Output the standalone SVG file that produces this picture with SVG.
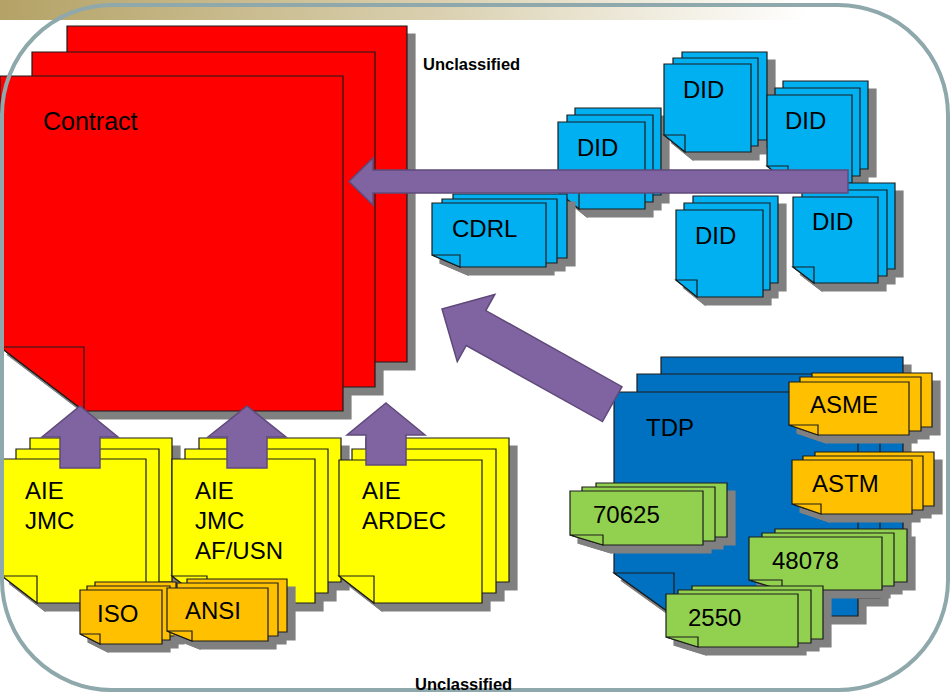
<svg xmlns="http://www.w3.org/2000/svg" width="951" height="693" viewBox="0 0 951 693">
<defs>
<linearGradient id="band" x1="0" y1="0" x2="951" y2="0" gradientUnits="userSpaceOnUse">
<stop offset="0" stop-color="#b4a266"/>
<stop offset="0.45" stop-color="#d9cfae"/>
<stop offset="0.85" stop-color="#ffffff"/>
</linearGradient>
<filter id="sh" x="-10%" y="-10%" width="130%" height="130%" color-interpolation-filters="sRGB">
<feOffset in="SourceAlpha" dx="8" dy="8" result="o"/>
<feFlood flood-color="#808080"/>
<feComposite in2="o" operator="in" result="s"/>
<feMerge><feMergeNode in="s"/><feMergeNode in="SourceGraphic"/></feMerge>
</filter>
<style>
path, polygon { stroke-linejoin: miter; }
.pg { stroke: #1c1c1c; stroke-width: 1.2; }
.red { fill: #ff0000; }
.yel { fill: #ffff00; }
.org { fill: #ffc000; }
.lb { fill: #00b0f0; }
.db { fill: #0070c0; }
.grn { fill: #92d050; }
.t { font-family: "Liberation Sans", Arial, sans-serif; font-size: 24px; fill: #000; }
.u { font-family: "Liberation Sans", Arial, sans-serif; font-size: 16.5px; font-weight: bold; fill: #000; }
.arr { fill: #8064a2; stroke: #5f497a; stroke-width: 1.5; }
</style>
</defs>
<rect width="951" height="693" fill="#ffffff"/>
<rect x="0" y="0" width="951" height="20" fill="url(#band)"/>

<g id="contract">
<g filter="url(#sh)" class="pg red">
<path d="M67 26 H407 V362 H150 L67 298 Z"/><path d="M67 298 H150 V362 Z"/>
<path d="M32 52 H375 V387 H116 L32 323 Z"/><path d="M32 323 H116 V387 Z"/>
<path d="M0 76 H343 V411 H84 L0 347 Z"/><path d="M0 347 H84 V411 Z"/>
</g>
<text class="t" x="43" y="130" style="font-size:25px">Contract</text>
</g>

<g id="aie-jmc">
<g filter="url(#sh)" class="pg yel">
<path d="M30 438 H172 V582 H65 L30 555 Z"/><path d="M30 555 H65 V582 Z"/>
<path d="M16 449 H159 V593 H51 L16 566 Z"/><path d="M16 566 H51 V593 Z"/>
<path d="M2 459 H146 V603 H37 L2 576 Z"/><path d="M2 576 H37 V603 Z"/>
</g>
<text class="t" x="25" y="499">AIE</text>
<text class="t" x="25" y="529">JMC</text>
</g>

<g id="aie-jmc-afusn">
<g filter="url(#sh)" class="pg yel">
<path d="M199 438 H341 V582 H234 L199 555 Z"/><path d="M199 555 H234 V582 Z"/>
<path d="M185 449 H328 V593 H220 L185 566 Z"/><path d="M185 566 H220 V593 Z"/>
<path d="M172 459 H315 V603 H207 L172 576 Z"/><path d="M172 576 H207 V603 Z"/>
</g>
<text class="t" x="195" y="499">AIE</text>
<text class="t" x="195" y="529">JMC</text>
<text class="t" x="195" y="559">AF/USN</text>
</g>

<g id="aie-ardec">
<g filter="url(#sh)" class="pg yel">
<path d="M366 438 H509 V582 H401 L366 555 Z"/><path d="M366 555 H401 V582 Z"/>
<path d="M352 449 H496 V593 H387 L352 566 Z"/><path d="M352 566 H387 V593 Z"/>
<path d="M339 460 H482 V603 H374 L339 576 Z"/><path d="M339 576 H374 V603 Z"/>
</g>
<text class="t" x="362" y="499">AIE</text>
<text class="t" x="362" y="529">ARDEC</text>
</g>

<g id="iso">
<g filter="url(#sh)" class="pg org">
<path d="M95 582 H176 V636 H115 L95 626 Z"/><path d="M95 626 H115 V636 Z"/>
<path d="M87 586 H170 V640 H107 L87 630 Z"/><path d="M87 630 H107 V640 Z"/>
<path d="M80 590 H162 V644 H100 L80 634 Z"/><path d="M80 634 H100 V644 Z"/>
</g>
<text class="t" x="97" y="622">ISO</text>
</g>

<g id="ansi">
<g filter="url(#sh)" class="pg org">
<path d="M187 579 H287 V632 H212 L187 622 Z"/><path d="M187 622 H212 V632 Z"/>
<path d="M177 583 H278 V636 H202 L177 626 Z"/><path d="M177 626 H202 V636 Z"/>
<path d="M167 588 H268 V641 H192 L167 631 Z"/><path d="M167 631 H192 V641 Z"/>
</g>
<text class="t" x="185" y="619">ANSI</text>
</g>

<g id="did-a">
<g filter="url(#sh)" class="pg lb">
<path d="M575 108 H661 V195 H596 L575 178 Z"/><path d="M575 178 H596 V195 Z"/>
<path d="M567 115 H653 V202 H588 L567 185 Z"/><path d="M567 185 H588 V202 Z"/>
<path d="M558 122 H645 V209 H579 L558 192 Z"/><path d="M558 192 H579 V209 Z"/>
</g>
<text class="t" x="577" y="156">DID</text>
</g>

<g id="did-b">
<g filter="url(#sh)" class="pg lb">
<path d="M682 52 H767 V140 H703 L682 123 Z"/><path d="M682 123 H703 V140 Z"/>
<path d="M673 58 H758 V146 H694 L673 129 Z"/><path d="M673 129 H694 V146 Z"/>
<path d="M664 64 H751 V152 H685 L664 135 Z"/><path d="M664 135 H685 V152 Z"/>
</g>
<text class="t" x="683" y="98">DID</text>
</g>

<g id="did-c">
<g filter="url(#sh)" class="pg lb">
<path d="M783 81 H868 V169 H804 L783 152 Z"/><path d="M783 152 H804 V169 Z"/>
<path d="M775 88 H860 V176 H796 L775 159 Z"/><path d="M775 159 H796 V176 Z"/>
<path d="M767 95 H852 V183 H788 L767 166 Z"/><path d="M767 166 H788 V183 Z"/>
</g>
<text class="t" x="785" y="129">DID</text>
</g>

<g id="did-d">
<g filter="url(#sh)" class="pg lb">
<path d="M693 196 H778 V283 H714 L693 266 Z"/><path d="M693 266 H714 V283 Z"/>
<path d="M684 203 H770 V290 H705 L684 273 Z"/><path d="M684 273 H705 V290 Z"/>
<path d="M676 210 H763 V297 H697 L676 280 Z"/><path d="M676 280 H697 V297 Z"/>
</g>
<text class="t" x="695" y="244">DID</text>
</g>

<g id="did-e">
<g filter="url(#sh)" class="pg lb">
<path d="M810 183 H895 V269 H831 L810 253 Z"/><path d="M810 253 H831 V269 Z"/>
<path d="M802 190 H887 V276 H823 L802 260 Z"/><path d="M802 260 H823 V276 Z"/>
<path d="M793 197 H878 V283 H814 L793 267 Z"/><path d="M793 267 H814 V283 Z"/>
</g>
<text class="t" x="812" y="230">DID</text>
</g>

<g id="cdrl">
<g filter="url(#sh)" class="pg lb">
<path d="M453 194 H567 V258 H481 L453 246 Z"/><path d="M453 246 H481 V258 Z"/>
<path d="M442 199 H557 V263 H470 L442 251 Z"/><path d="M442 251 H470 V263 Z"/>
<path d="M432 203 H546 V267 H460 L432 255 Z"/><path d="M432 255 H460 V267 Z"/>
</g>
<text class="t" x="452" y="237">CDRL</text>
</g>

<g id="tdp">
<g filter="url(#sh)" class="pg db">
<path d="M661 357 H903 V581 H720 L661 538 Z"/><path d="M661 538 H720 V581 Z"/>
<path d="M637 374 H880 V598 H697 L637 555 Z"/><path d="M637 555 H697 V598 Z"/>
<path d="M614 392 H858 V616 H674 L614 573 Z"/><path d="M614 573 H674 V616 Z"/>
</g>
<text class="t" x="646" y="436">TDP</text>
</g>

<g id="asme">
<g filter="url(#sh)" class="pg org">
<path d="M812 373 H932 V427 H841 L812 417 Z"/><path d="M812 417 H841 V427 Z"/>
<path d="M800 377 H921 V431 H830 L800 421 Z"/><path d="M800 421 H830 V431 Z"/>
<path d="M789 382 H909 V435 H818 L789 425 Z"/><path d="M789 425 H818 V435 Z"/>
</g>
<text class="t" x="810" y="413">ASME</text>
</g>

<g id="astm">
<g filter="url(#sh)" class="pg org">
<path d="M815 452 H934 V506 H844 L815 496 Z"/><path d="M815 496 H844 V506 Z"/>
<path d="M803 456 H923 V510 H832 L803 500 Z"/><path d="M803 500 H832 V510 Z"/>
<path d="M792 460 H912 V514 H821 L792 504 Z"/><path d="M792 504 H821 V514 Z"/>
</g>
<text class="t" x="812" y="492">ASTM</text>
</g>

<g id="n70625">
<g filter="url(#sh)" class="pg grn">
<path d="M596 483 H727 V537 H628 L596 527 Z"/><path d="M596 527 H628 V537 Z"/>
<path d="M582 487 H715 V541 H615 L582 531 Z"/><path d="M582 531 H615 V541 Z"/>
<path d="M570 491 H703 V545 H603 L570 535 Z"/><path d="M570 535 H603 V545 Z"/>
</g>
<text class="t" x="593" y="523">70625</text>
</g>

<g id="n48078">
<g filter="url(#sh)" class="pg grn">
<path d="M775 529 H907 V582 H807 L775 572 Z"/><path d="M775 572 H807 V582 Z"/>
<path d="M762 533 H894 V586 H794 L762 576 Z"/><path d="M762 576 H794 V586 Z"/>
<path d="M749 537 H882 V590 H782 L749 580 Z"/><path d="M749 580 H782 V590 Z"/>
</g>
<text class="t" x="772" y="569">48078</text>
</g>

<g id="n2550">
<g filter="url(#sh)" class="pg grn">
<path d="M692 586 H823 V639 H724 L692 629 Z"/><path d="M692 629 H724 V639 Z"/>
<path d="M678 590 H811 V643 H711 L678 633 Z"/><path d="M678 633 H711 V643 Z"/>
<path d="M666 594 H798 V647 H698 L666 637 Z"/><path d="M666 637 H698 V647 Z"/>
</g>
<text class="t" x="688" y="626">2550</text>
</g>

<g id="connectors">
<polygon class="arr" points="349,181.5 373,158 373,170 848,170 848,193 373,193 373,205"/>
<polygon class="arr" transform="translate(442,309) rotate(29.2)" points="0,0 39,-38.5 39,-20 195,-20 195,20 39,20 39,38.5"/>
<polygon class="arr" points="80,406 118,437 100,437 100,468 60,468 60,437 42,437"/>
<polygon class="arr" points="247,406 286,437 267,437 267,468 227,468 227,437 208,437"/>
<polygon class="arr" points="386,403 425,435 406,435 406,465 366,465 366,435 347,435"/>
</g>

<rect x="2" y="5" width="946" height="685" rx="110" ry="110" fill="none" stroke="#8ea8ab" stroke-width="4"/>

<text class="u" x="423" y="70">Unclassified</text>
<text class="u" x="415" y="690">Unclassified</text>
</svg>
